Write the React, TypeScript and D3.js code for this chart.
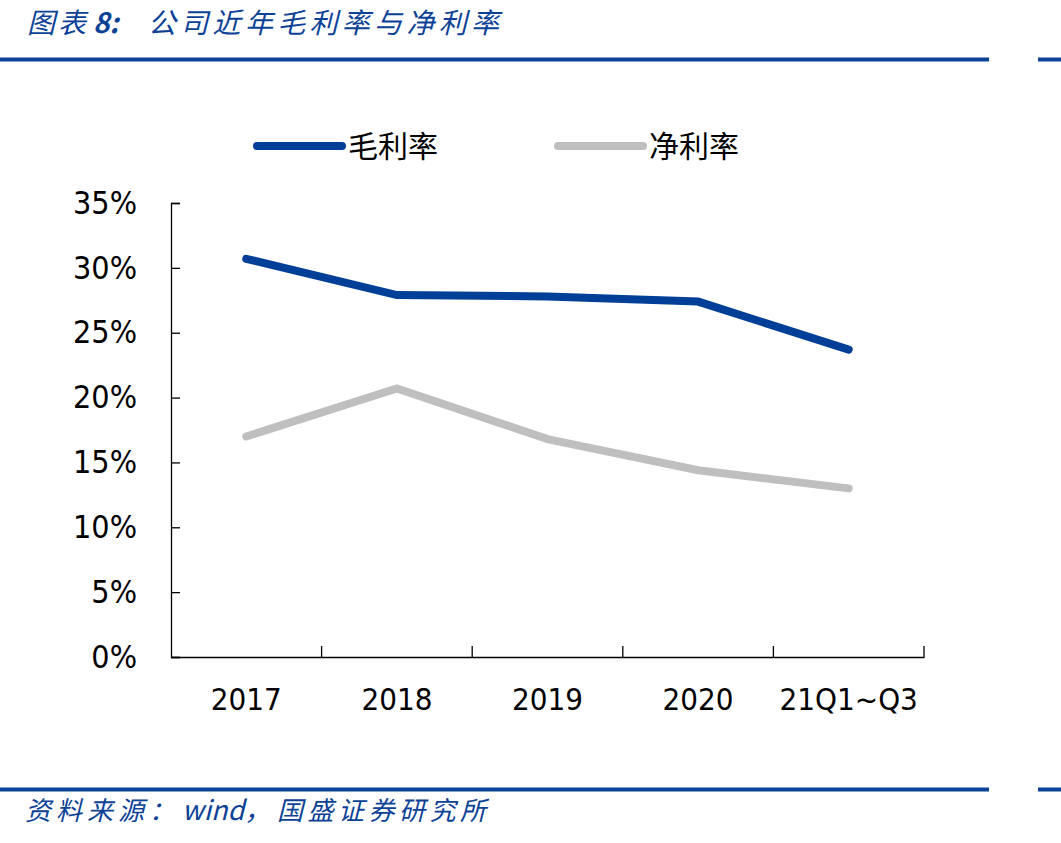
import React, { useEffect, useRef } from 'react';
import * as d3 from 'd3';

const categories = ['2017', '2018', '2019', '2020', '21Q1~Q3'];
const grossMargin = [30.7, 27.9, 27.8, 27.4, 23.7];
const netMargin = [17.0, 20.7, 16.8, 14.4, 13.0];
const yTicks = [0, 5, 10, 15, 20, 25, 30, 35];

const seriesList = [
  { name: '毛利率', values: grossMargin, color: '#003f98' },
  { name: '净利率', values: netMargin, color: '#bfbfbf' },
];

const W = 1061, H = 843;
const BLUE = '#0b4296';
const numFont = "'DejaVu Sans Condensed', 'DejaVu Sans', sans-serif";
const cjkFont = "'Noto Sans CJK SC', sans-serif";

const App = () => {
  const svgRef = useRef<SVGSVGElement>(null);

  useEffect(() => {
    const svg = d3.select(svgRef.current);
    svg.selectAll('*').remove();

    const margin = { top: 203, right: 137, bottom: 186, left: 171 };

    const x = d3.scaleBand<string>()
      .domain(categories)
      .range([margin.left, W - margin.right]);

    const y = d3.scaleLinear()
      .domain([0, 35])
      .range([H - margin.bottom, margin.top]);

    // title + rules
    const title = svg.append('text')
      .attr('y', 33)
      .attr('fill', BLUE)
      .style('font-family', cjkFont)
      .style('font-style', 'italic')
      .style('font-size', '28px');
    title.append('tspan').attr('x', 27).style('letter-spacing', '3px').text('图表');
    title.append('tspan').attr('x', 93).style('font-weight', 'bold').text('8:');
    title.append('tspan').attr('x', 148).style('letter-spacing', '4.3px').text('公司近年毛利率与净利率');

    [59.5, 789.5].forEach(yy => {
      svg.append('line').attr('x1', 0).attr('x2', 989).attr('y1', yy).attr('y2', yy)
        .attr('stroke', BLUE).attr('stroke-width', 4);
      svg.append('line').attr('x1', 1038).attr('x2', W).attr('y1', yy).attr('y2', yy)
        .attr('stroke', BLUE).attr('stroke-width', 4);
    });

    const source = svg.append('text')
      .attr('y', 820)
      .attr('fill', BLUE)
      .style('font-family', cjkFont)
      .style('font-style', 'italic')
      .style('font-size', '26px');
    source.append('tspan').attr('x', 25).style('letter-spacing', '5px').text('资料来源：');
    source.append('tspan').attr('x', 182).style('font-size', '27px').text('wind，');
    source.append('tspan').attr('x', 277).style('letter-spacing', '4.5px').text('国盛证券研究所');

    // y axis
    const yAxis = svg.append('g')
      .attr('transform', `translate(${margin.left},0)`)
      .call(d3.axisLeft(y).tickValues(yTicks).tickSize(-9).tickPadding(34).tickFormat(d => `${d}%`));
    yAxis.select('.domain').attr('stroke', '#000').attr('stroke-width', 1.3);
    yAxis.selectAll('.tick line').attr('stroke', '#000').attr('stroke-width', 1.3);
    yAxis.selectAll('text')
      .attr('fill', '#000')
      .style('font-family', numFont)
      .style('font-stretch', 'condensed')
      .style('font-size', '32px');

    // x axis: labels centred in bands, ticks on band edges
    const xAxis = svg.append('g')
      .attr('transform', `translate(0,${H - margin.bottom})`)
      .call(d3.axisBottom(x).tickSize(0).tickSizeOuter(0));
    xAxis.select('.domain').attr('stroke', '#000').attr('stroke-width', 1.3);
    xAxis.selectAll('text')
      .attr('y', 53).attr('dy', 0)
      .attr('fill', '#000')
      .style('font-family', numFont)
      .style('font-stretch', 'condensed')
      .style('font-size', '31px');

    const edges = categories.map(c => x(c)! + x.bandwidth());
    xAxis.selectAll('line.edge')
      .data(edges)
      .join('line')
      .attr('class', 'edge')
      .attr('x1', d => d).attr('x2', d => d)
      .attr('y1', 0).attr('y2', -11)
      .attr('stroke', '#000').attr('stroke-width', 1.3);

    // lines
    const line = d3.line<number>()
      .x((_, i) => x(categories[i])! + x.bandwidth() / 2)
      .y(d => y(d));

    seriesList.slice().reverse().forEach(s => {
      svg.append('path')
        .datum(s.values)
        .attr('d', line)
        .attr('fill', 'none')
        .attr('stroke', s.color)
        .attr('stroke-width', 8)
        .attr('stroke-linecap', 'round')
        .attr('stroke-linejoin', 'miter');
    });

    // legend
    const legend = svg.append('g').attr('transform', 'translate(257,146)');
    seriesList.forEach((s, i) => {
      const g = legend.append('g').attr('transform', `translate(${i * 301},0)`);
      g.append('line')
        .attr('x1', 0).attr('x2', 85).attr('y1', 0).attr('y2', 0)
        .attr('stroke', s.color).attr('stroke-width', 8).attr('stroke-linecap', 'round');
      g.append('text')
        .attr('x', 91).attr('y', 11)
        .attr('fill', '#000')
        .style('font-family', cjkFont)
        .style('font-size', '30px')
        .text(s.name);
    });
  }, []);

  return (
    <svg
      ref={svgRef}
      width={W}
      height={H}
      style={{ position: 'absolute', left: 0, top: 0, background: '#fff' }}
    />
  );
};

export default App;
